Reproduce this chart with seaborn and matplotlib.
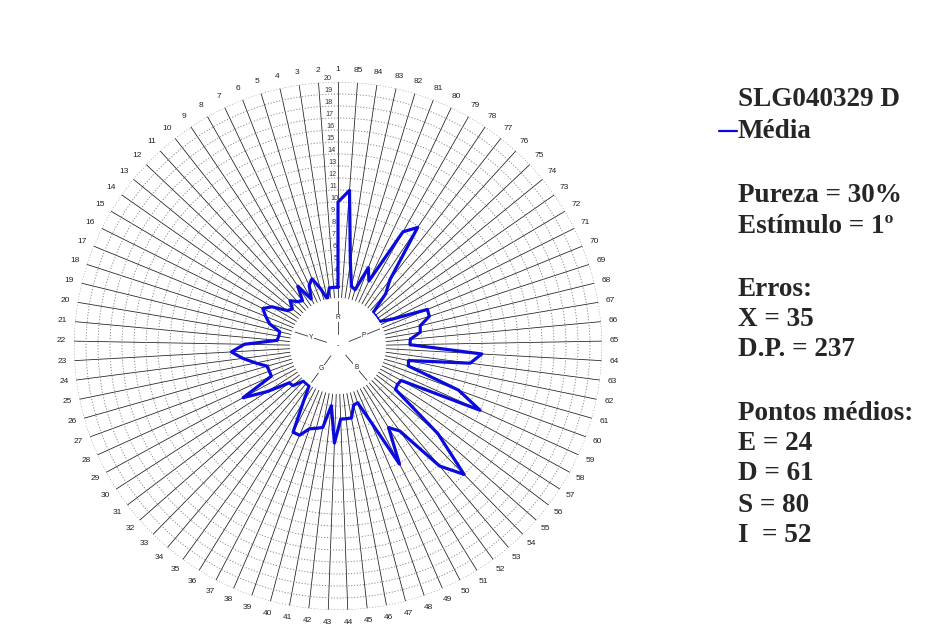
import numpy as np
import pandas as pd
import matplotlib
matplotlib.use("Agg")
import matplotlib.pyplot as plt
from matplotlib.lines import Line2D
import seaborn as sns

sns.set_theme(style="white")
plt.rcParams['font.family'] = ['Liberation Sans', 'DejaVu Sans']

# hue steps around the circle (numbered counter-clockwise from the top)
setores = list(range(1, 86))
# mean error per hue step; the first value sits at 0 deg, the last one closes the loop at 360 deg
media = [2.9, 2.9, 2.9, 2.0, 3.0, 4.0, 3.6, 2.5, 4.0, 2.8,
         3.0, 3.5, 2.9, 3.15, 4.4, 5.0, 4.5, 4.0, 3.0, 3.0,
         3.1, 5.8, 6.9, 6.0, 5.0, 4.15, 4.1, 4.1, 7.0, 5.0,
         3.1, 3.0, 2.1, 2.1, 2.1, 3.5, 6.1, 6.1, 5.3, 5.1,
         4.9, 3.0, 6.1, 4.1, 4.1, 4.1, 3.1, 3.0, 4.8, 9.1,
         6.0, 6.75, 11.1, 13.0, 9.1, 4.0, 3.9, 4.0, 11.0, 8.7,
         4.1, 4.0, 9.1, 10.0, 4.0, 4.05, 4.95, 5.05, 6.0, 6.05,
         3.0, 2.0, 2.0, 2.0, 2.0, 3.9, 5.0, 9.9, 8.95, 4.0,
         5.0, 2.9, 3.1, 5.0, 11.0, 10.0]
raios = list(range(3, 21))

# principal hues marked inside the centre hole
matizes = ['R', 'Y', 'G', 'B', 'P']
setor_matiz = [1, 18, 35, 53, 70]

titulo = 'SLG040329 D'
serie = 'Média'
info = [('Pureza = 30%', 196), ('Estímulo = 1º', 226),
        ('Erros:', 290), ('X = 35', 320), ('D.P. = 237', 350),
        ('Pontos médios:', 413), ('E = 24', 444), ('D = 61', 474),
        ('S = 80', 505), ('I  = 52', 535)]

passo = 360.0 / len(setores)
ang = np.deg2rad(np.arange(len(media)) * passo)
df = pd.DataFrame({'theta': np.append(ang, ang[0]),
                   'r': media + [media[0]]})

W, H = 938, 630
fig = plt.figure(figsize=(W / 100, H / 100), dpi=100)
cx, cy, R = 338, 346, 264
ax = fig.add_axes([(cx - R) / W, (H - cy - R) / H, 2 * R / W, 2 * R / H],
                  projection='polar')
ax.set_theta_zero_location('N')
ax.set_theta_direction(1)

sns.lineplot(data=df, x='theta', y='r', sort=False, estimator=None,
             color='#0a0adc', lw=2.3, ax=ax, legend=False)

# spokes and rings
ax.set_xticks(np.deg2rad((np.array(setores) - 1) * passo))
ax.set_xticklabels([str(s) for s in setores])
ax.set_yticks(raios)
ax.set_yticklabels([str(r) for r in raios])
ax.xaxis.grid(True, color='#1a1a1a', lw=0.55, ls='-')
ax.yaxis.grid(True, color='#8a8a8a', lw=0.7, ls=(0, (1.2, 1.8)))
ax.tick_params(axis='x', labelsize=6.0, pad=2, length=0, colors='#222222')
ax.tick_params(axis='y', labelsize=5.2, pad=0, length=0, colors='#333333')
ax.set_rlabel_position(3.2)
for sp in ax.spines.values():
    sp.set_visible(False)
    sp.set_linewidth(0)
    sp.set_color('none')
ax.set_xlabel('')
ax.set_ylabel('')

# hue markers in the hole
for nome, s in zip(matizes, setor_matiz):
    a = np.deg2rad((s - 1) * passo)
    ax.plot([a, a], [-1.0, 1.75], color='#333333', lw=0.6, clip_on=False)
    ax.text(a, 0.35, nome, ha='center', va='center', fontsize=4.8,
            color='#222222', clip_on=False,
            bbox=dict(fc='white', ec='none', pad=0.4))
ax.text(0, -2, '-', ha='center', va='center', fontsize=5, color='#222222',
        clip_on=False)

ax.set_rorigin(-2)
ax.set_ylim(2, 20)

# text block on the right
fs = 19.5
serif = ['Liberation Serif', 'DejaVu Serif']
x0 = 738 / W
fig.text(x0, 1 - 99 / H, titulo, ha='left', va='center', fontsize=fs,
         fontweight='bold', family=serif)
fig.add_artist(Line2D([719 / W, 737 / W], [1 - 131 / H, 1 - 131 / H],
                      color='#0a0adc', lw=1.6))
fig.text(x0, 1 - 131 / H, serie, ha='left', va='center', fontsize=fs,
         fontweight='bold', family=serif)
for txt, y in info:
    fig.text(x0, 1 - y / H, txt, ha='left', va='center', fontsize=fs,
             fontweight='bold', family=serif)

fig.savefig('out.png', dpi=100)
